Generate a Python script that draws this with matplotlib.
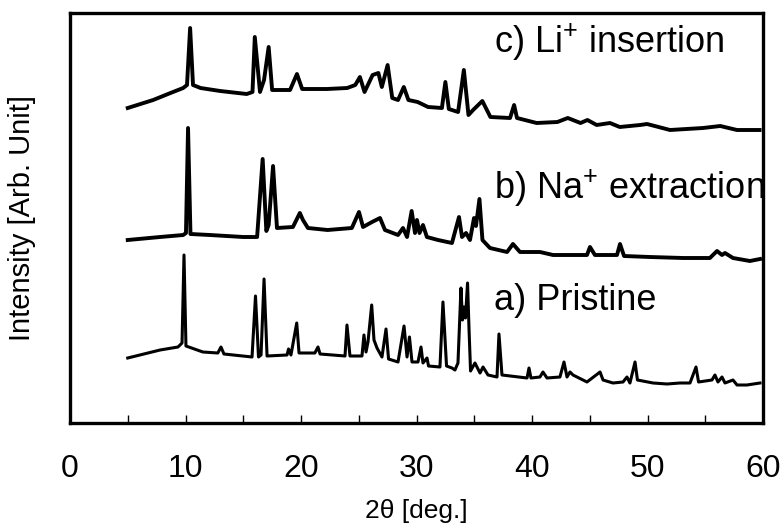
import numpy as np
import matplotlib.pyplot as plt

plt.rcParams['font.family'] = ['Liberation Sans', 'DejaVu Sans']
plt.rcParams['mathtext.fontset'] = 'custom'
plt.rcParams['mathtext.rm'] = 'Liberation Sans'
plt.rcParams['mathtext.default'] = 'regular'

# c) Li+ insertion  (2theta, intensity in arb. units, read off the figure)
tt_c = [5.0, 7.2, 8.7, 9.8, 10.13, 10.4, 10.65, 11.3, 13.0, 15.3, 15.8, 16.0, 16.45,
        16.8, 17.2, 17.5, 19.05, 19.65, 20.1, 22.25, 24.0, 24.7, 25.1, 25.5, 26.2,
        26.7, 27.0, 27.5, 27.9, 28.4, 28.9, 29.3, 30.1, 31.0, 32.2, 32.5, 32.8, 33.6,
        34.1, 34.5, 34.9, 35.7, 36.4, 38.1, 38.45, 38.7, 40.4, 42.2, 43.1, 44.2,
        44.8, 45.6, 46.75, 47.6, 49.35, 49.96, 51.95, 54.8, 56.3, 57.75, 59.7]
int_c = [315, 323, 330, 335, 338, 395, 338, 335, 332, 329, 331, 386, 331,
         343, 376, 333, 333, 349, 334, 334, 335, 338, 346, 331, 348,
         350, 336, 358, 325, 323, 336, 323, 321, 316, 315, 341, 314, 311,
         353, 308, 313, 322, 306, 305, 318, 305, 300, 301, 305, 300,
         303, 298, 300, 296, 298, 299, 293, 295, 297, 293, 293]

# b) Na+ extraction
tt_b = [5.0, 7.8, 9.8, 10.04, 10.22, 10.43, 12.1, 15.0, 16.2, 16.68, 17.0, 17.2,
        17.58, 17.92, 19.3, 19.9, 20.17, 20.6, 22.3, 24.4, 25.02, 25.37, 26.15,
        26.84, 27.27, 28.4, 28.83, 29.18, 29.58, 29.87, 30.04, 30.26, 30.56, 30.9,
        31.86, 33.07, 33.68, 33.94, 34.29, 34.63, 34.98, 35.15, 35.45, 35.71, 36.36,
        37.84, 38.35, 38.96, 40.69, 41.82, 44.76, 45.02, 45.45, 47.36, 47.62, 47.97,
        50.2, 53.1, 55.4, 56.02, 56.45, 56.71, 57.4, 58.87, 59.74]
int_b = [183, 186, 188, 190, 295, 189, 188, 186, 186, 264, 192, 198,
         257, 195, 196, 210, 203, 195, 193, 195, 211, 196, 201,
         205, 193, 188, 195, 186, 212, 190, 203, 190, 198, 186,
         183, 180, 206, 186, 190, 183, 205, 197, 224, 183, 175,
         171, 179, 171, 171, 168, 168, 176, 168, 168, 179, 167,
         166, 165, 165, 172, 168, 170, 165, 162, 164]

# a) Pristine
tt_a = [5.0, 7.8, 9.35, 9.7, 9.87, 10.04, 11.5, 12.8, 13.07, 13.33, 15.76, 16.06,
        16.32, 16.54, 16.8, 17.06, 18.79, 18.92, 19.13, 19.63, 19.83, 21.2, 21.47,
        21.65, 23.81, 23.98, 24.24, 25.28, 25.45, 25.63, 25.8, 26.12, 26.32, 26.58,
        27.01, 27.36, 27.58, 28.4, 28.92, 29.18, 29.39, 29.61, 30.13, 30.39, 30.56,
        30.91, 31.04, 32.03, 32.29, 32.6, 33.07, 33.33, 33.59, 33.85, 33.98, 34.11,
        34.24, 34.42, 34.55, 34.68, 35.06, 35.5, 35.76, 36.19, 36.97, 37.14, 37.4,
        39.57, 39.74, 39.91, 40.69, 40.95, 41.3, 42.42, 42.77, 43.03, 43.29, 43.55,
        44.76, 45.89, 46.15, 47.01, 47.88, 48.22, 48.48, 48.92, 49.13, 50.48, 51.69,
        52.81, 53.68, 54.2, 54.42, 55.58, 55.84, 56.1, 56.45, 56.71, 57.4, 57.75,
        58.61, 59.74]
int_a = [65, 73, 76, 80, 168, 77, 71, 70, 76, 69, 66, 127,
         66, 68, 144, 67, 68, 74, 68, 100, 70, 70, 76,
         69, 67, 98, 67, 67, 88, 71, 81, 118, 83, 75,
         66, 94, 64, 61, 97, 66, 86, 61, 61, 76, 60,
         65, 57, 56, 121, 57, 55, 53, 60, 135, 103, 116,
         105, 140, 93, 52, 60, 50, 56, 48, 46, 89, 48,
         45, 55, 45, 46, 51, 45, 46, 61, 46, 51, 48,
         41, 51, 43, 40, 41, 46, 40, 61, 43, 40, 39,
         40, 40, 56, 41, 43, 48, 41, 46, 40, 43, 38,
         38, 40]

labels = ['c) Li$^{+}$ insertion', 'b) Na$^{+}$ extraction', 'a) Pristine']
label_y = [381, 235, 122]

fig = plt.figure(figsize=(7.82, 5.32), dpi=100)
ax = fig.add_axes([70 / 782, 109 / 532, 693 / 782, 410 / 532])

ax.plot(tt_c, int_c, color='black', lw=2.8, solid_joinstyle='round')
ax.plot(tt_b, int_b, color='black', lw=2.8, solid_joinstyle='round')
ax.plot(tt_a, int_a, color='black', lw=2.2, solid_joinstyle='round')

for lab, yy in zip(labels, label_y):
    ax.text(36.7, yy, lab, fontsize=26, ha='left', va='center')

ax.set_xlim(0, 60)
ax.set_ylim(0, 410)
ax.set_xticks(np.arange(0, 61, 10))
ax.set_xticks(np.arange(5, 60, 10), minor=True)
ax.set_yticks([])
ax.tick_params(axis='x', which='both', direction='in', length=6, width=1,
               pad=22, labelsize=23)
for s in ax.spines.values():
    s.set_linewidth(2.4)

fig.text(416 / 782, 1 - 511 / 532, '2θ [deg.]', fontsize=19, ha='center', va='center')
fig.text(22 / 782, 1 - 218 / 532, 'Intensity [Arb. Unit]', fontsize=21,
         rotation=90, ha='center', va='center')

fig.savefig('out.png', dpi=100)
